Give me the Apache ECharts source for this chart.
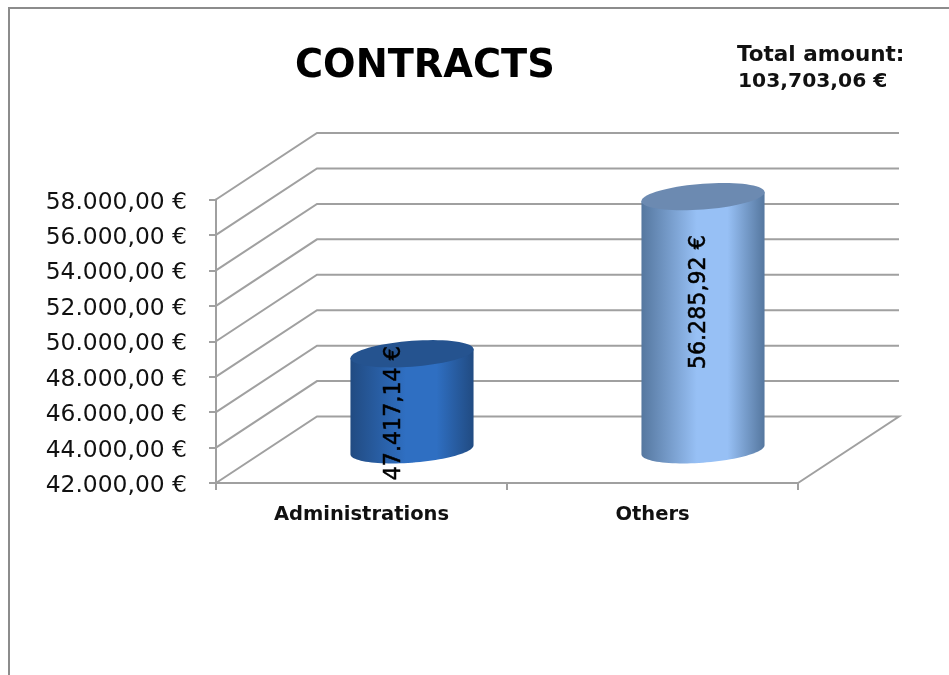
<!DOCTYPE html>
<html><head><meta charset="utf-8">
<style>html,body{margin:0;padding:0;background:#fff}#c{width:949px;height:675px}</style>
<script src="https://cdn.jsdelivr.net/npm/echarts@6/dist/echarts.min.js"></script>
</head><body><div id="c"></div>
<script>
const categories = ['Administrations', 'Others'];
const values = [47417.14, 56285.92];
const valueLabels = ['47.417,14 €', '56.285,92 €'];
const yTicks = [42000, 44000, 46000, 48000, 50000, 52000, 54000, 56000, 58000];
const titleText = 'CONTRACTS';
const totalLine1 = 'Total amount:';
const totalLine2 = '103,703,06 €';

const FONT = '"DejaVu Sans", sans-serif';
const DX = 101, DY = -66.5;
const lineCol = '#a0a0a0';
const palette = [
  {edge: '#214b82', mid: '#2f6fc2', top: '#25538f'},
  {edge: '#55779f', mid: '#97c0f5', top: '#6c8ab1'}
];
const labelShift = [[-18, 11.5], [-4, -21]];

function fmtY(v) {
  return '{t|' + String(v).replace(/(\d+)(\d{3})$/, '$1.$2') + ',00 €}';
}

function ellipsePts(cx, cy, a, b, k, from, to, n) {
  const pts = [];
  for (let i = 0; i <= n; i++) {
    const t = from + (to - from) * i / n;
    pts.push([cx + a * Math.cos(t), cy - k * Math.cos(t) + b * Math.sin(t)]);
  }
  return pts;
}

const option = {
  animation: false,
  backgroundColor: '#fff',
  textStyle: {fontFamily: FONT},
  title: [
    {text: titleText, left: 295, top: 48, padding: 0,
     textStyle: {fontFamily: FONT, fontSize: 38.3, fontWeight: 'bold', color: '#000'}},
    {text: totalLine1, left: 737, top: 44, padding: 0,
     textStyle: {fontFamily: FONT, fontSize: 21.5, fontWeight: 'bold', color: '#111'}},
    {text: totalLine2, left: 738, top: 72, padding: 0,
     textStyle: {fontFamily: FONT, fontSize: 20.3, fontWeight: 'bold', color: '#111'}}
  ],
  grid: {left: 216, top: 199.5, width: 582, height: 283.5},
  xAxis: {
    type: 'category', data: categories,
    axisLine: {lineStyle: {color: lineCol, width: 2}},
    axisTick: {show: true, length: 7, alignWithLabel: false, lineStyle: {color: lineCol, width: 2}},
    axisLabel: {fontFamily: FONT, fontSize: 19.5, fontWeight: 'bold', color: '#111', margin: 22, interval: 0}
  },
  yAxis: {
    type: 'value', min: 42000, max: 58000, interval: 2000,
    splitLine: {show: false},
    axisLine: {show: true, lineStyle: {color: lineCol, width: 2}},
    axisTick: {show: true, length: 7, lineStyle: {color: lineCol, width: 2}},
    axisLabel: {margin: 29, formatter: fmtY,
      rich: {t: {fontFamily: FONT, fontSize: 23.4, color: '#111', padding: [6, 0, 0, 0]}}}
  },
  graphic: [
    {type: 'polyline', silent: true, z: 0,
     shape: {points: [[9, 675], [9, 8], [949, 8]]},
     style: {stroke: '#8c8c8c', lineWidth: 2, fill: 'none'}}
  ],
  series: [
    {
      type: 'custom', z: 1, silent: true,
      data: yTicks,
      encode: {y: 0},
      renderItem(params, api) {
        const p = api.coord([0, api.value(0)]);
        const x0 = params.coordSys.x, x1 = x0 + params.coordSys.width;
        const y = p[1];
        const pts = [[x0, y], [x0 + DX, y + DY], [x1 + DX, y + DY]];
        if (api.value(0) === yTicks[0]) pts.push([x1, y]);
        return {type: 'polyline', shape: {points: pts},
                style: {stroke: lineCol, lineWidth: 2, fill: 'none'}};
      }
    },
    {
      type: 'custom', z: 3, silent: true,
      data: values.map((v, i) => [i, v]),
      encode: {x: 0, y: 1},
      renderItem(params, api) {
        const i = api.value(0), v = api.value(1);
        const band = api.size([1, 0])[0];
        const top0 = api.coord([i, v]);
        const base0 = api.coord([i, yTicks[0]]);
        const cx = top0[0] + DX / 2;
        const a = band * 0.2115, b = 12.9, k = 4.5;
        const yT = top0[1] + DY / 2, yB = base0[1] + DY / 2;
        const c = palette[i];
        const front = ellipsePts(cx, yB, a, b, k, 0, Math.PI, 48);
        const body = [[cx + a, yT - k]].concat(front, [[cx - a, yT + k]]);
        return {
          type: 'group',
          children: [
            {type: 'polygon', shape: {points: body},
             style: {fill: new echarts.graphic.LinearGradient(0, 0, 1, 0, [
               {offset: 0, color: c.edge},
               {offset: 0.45, color: c.mid},
               {offset: 0.7, color: c.mid},
               {offset: 1, color: c.edge}
             ])}},
            {type: 'polygon', shape: {points: ellipsePts(cx, yT, a, b, k, 0, Math.PI * 2, 72)},
             style: {fill: c.top}},
            {type: 'text', x: cx + labelShift[i][0], y: (yT + yB) / 2 + labelShift[i][1],
             rotation: Math.PI / 2,
             style: {text: valueLabels[i], fill: '#000', stroke: '#000', lineWidth: 0.5,
                     align: 'center', verticalAlign: 'middle', font: '22.2px ' + FONT}}
          ]
        };
      }
    }
  ]
};
echarts.init(document.getElementById('c')).setOption(option);
</script></body></html>
